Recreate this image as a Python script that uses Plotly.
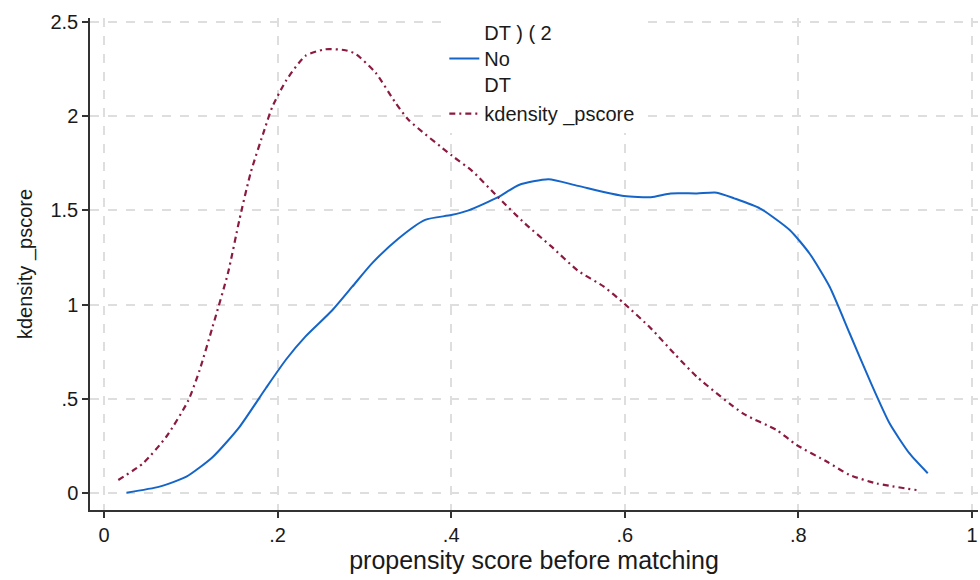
import plotly.graph_objects as go

# Blue series: "DT ) ( 2 / No / DT"
blue_x = [0.026, 0.064, 0.095, 0.125, 0.156, 0.187, 0.21, 0.232, 0.263, 0.286, 0.309, 0.339,
          0.37, 0.40, 0.42, 0.454, 0.478, 0.512, 0.546, 0.599, 0.630, 0.653, 0.683, 0.706,
          0.726, 0.756, 0.790, 0.813, 0.836, 0.859, 0.882, 0.905, 0.928, 0.949]
blue_y = [0.002, 0.034, 0.087, 0.19, 0.35, 0.56, 0.71, 0.83, 0.97, 1.095, 1.22, 1.35,
          1.45, 1.475, 1.50, 1.57, 1.635, 1.665, 1.63, 1.576, 1.57, 1.59, 1.59, 1.594,
          1.564, 1.51, 1.396, 1.27, 1.095, 0.848, 0.60, 0.37, 0.21, 0.105]

# Red series: kdensity _pscore
red_x = [0.0165, 0.045, 0.072, 0.097, 0.110, 0.125, 0.143, 0.156, 0.169, 0.185, 0.194, 0.21,
         0.232, 0.255, 0.278, 0.29, 0.313, 0.336, 0.351, 0.401, 0.424, 0.454, 0.485, 0.515,
         0.546, 0.576, 0.599, 0.63, 0.657, 0.683, 0.737, 0.775, 0.798, 0.833, 0.859,
         0.89, 0.936]
red_y = [0.069, 0.158, 0.30, 0.49, 0.65, 0.88, 1.17, 1.45, 1.70, 1.93, 2.05, 2.19,
         2.32, 2.355, 2.35, 2.33, 2.23, 2.07, 1.98, 1.79, 1.71, 1.57, 1.43, 1.31,
         1.18, 1.095, 1.007, 0.874, 0.74, 0.617, 0.42, 0.334, 0.255, 0.166, 0.096,
         0.051, 0.016]

x_ticks = [0, 0.2, 0.4, 0.6, 0.8, 1]
x_ticktext = ["0", ".2", ".4", ".6", ".8", "1"]
y_ticks = [0, 0.5, 1, 1.5, 2, 2.5]
y_ticktext = ["0", ".5", "1", "1.5", "2", "2.5"]

blue_name = "DT ) ( 2<br>No<br>DT"
red_name = "kdensity _pscore"

fig = go.Figure()
fig.add_trace(go.Scatter(x=blue_x, y=blue_y, mode="lines", name=blue_name,
                         line=dict(color="#1565c8", width=2, shape="spline", smoothing=0.6)))
fig.add_trace(go.Scatter(x=red_x, y=red_y, mode="lines", name=red_name,
                         line=dict(color="#8b1a3e", width=2.2, shape="spline", smoothing=0.6,
                                   dash="6px,4px,2px,4px")))

font_family = "Liberation Sans, Arial, sans-serif"
axis_common = dict(showgrid=True, gridcolor="#dedede", griddash="dash", gridwidth=1.5,
                   zeroline=False, showline=True, linecolor="#333", linewidth=1.5,
                   ticks="outside", ticklen=6, tickcolor="#333", tickwidth=1.5,
                   tickfont=dict(size=20, color="#1a1a1a"), automargin=False,
                   ticklabeloverflow="allow")
fig.update_layout(
    width=980, height=580,
    margin=dict(l=90, r=2, t=18, b=70),
    paper_bgcolor="white", plot_bgcolor="white",
    font=dict(family=font_family, size=20, color="#1a1a1a"),
    showlegend=True,
    legend=dict(x=0.399, y=1.01, xanchor="left", yanchor="top",
                bgcolor="white", borderwidth=0, font=dict(size=20, color="#1a1a1a"),
                tracegroupgap=0, valign="middle"),
    xaxis=dict(range=[-0.0161, 1.0069], tickvals=x_ticks, ticktext=x_ticktext,
               title=dict(text="propensity score before matching", font=dict(size=25), standoff=6),
               **axis_common),
    yaxis=dict(range=[-0.090, 2.521], tickvals=y_ticks, ticktext=y_ticktext,
               title=dict(text="kdensity _pscore", font=dict(size=20), standoff=12),
               **axis_common),
)

fig.write_html("out.html", config={"displayModeBar": False},
               post_script="document.body.style.margin='0';")
